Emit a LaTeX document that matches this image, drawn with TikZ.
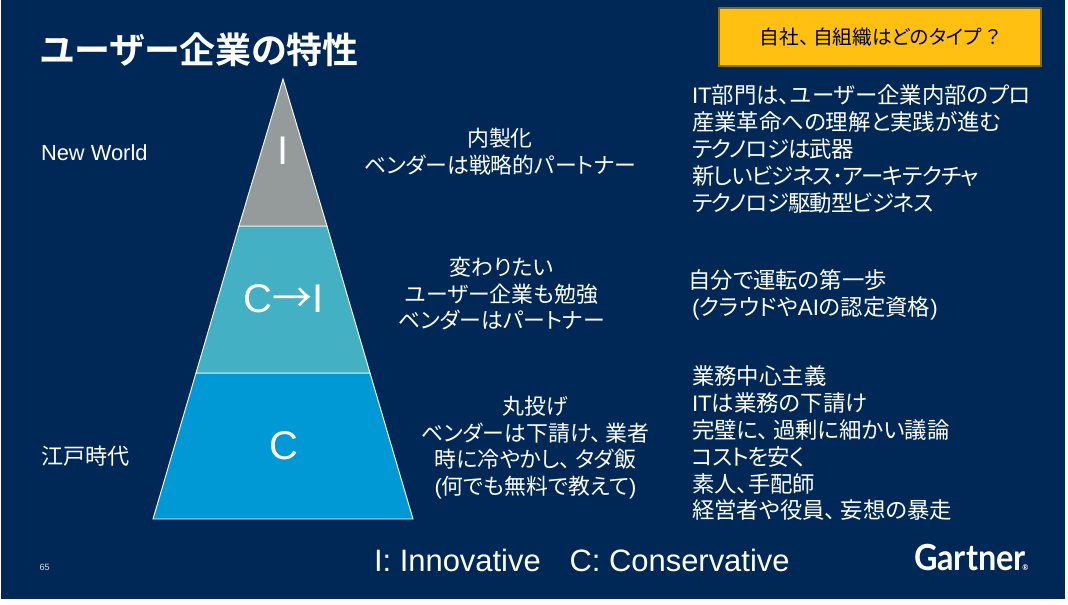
\documentclass[tikz,border=0pt]{standalone}
\usepackage{fontspec}
\setmainfont{Liberation Sans}
\newfontfamily\cjk[RawFeature=+palt]{Noto Sans CJK JP}
\newfontfamily\cjkfull{Noto Sans CJK JP}
\newfontfamily\cjkb[RawFeature=+palt]{Noto Sans CJK JP Bold}
\newfontfamily\cjktight[RawFeature=+palt,LetterSpace=-4]{Noto Sans CJK JP}
\newfontfamily\logofont[FakeStretch=0.9]{Lato Bold}
\definecolor{bgnavy}{HTML}{002856}
\definecolor{tiergray}{HTML}{959A9B}
\definecolor{tierteal}{HTML}{44B0C4}
\definecolor{tierblue}{HTML}{0099D6}
\definecolor{boxyellow}{HTML}{FFC012}
\definecolor{boxedge}{HTML}{7F6A1E}
\newcommand{\lat}[1]{{\rmfamily #1}}
\newcommand{\tou}{、\kern0.2em}
\tikzset{
  tier/.style={draw=white,line width=0.7pt,line join=miter},
  lbl/.style={text=white,inner sep=0pt,outer sep=0pt},
  blockc/.style={lbl,align=center,anchor=north,font=\cjk\fontsize{16.4}{20}\selectfont},
  blockl/.style={lbl,align=left,anchor=north west,font=\cjk\fontsize{16.8}{20.1}\selectfont},
  tierletter/.style={lbl,font=\rmfamily\fontsize{30}{30}\selectfont}
}
\begin{document}
\begin{tikzpicture}[x=0.75pt,y=-0.75pt]
\useasboundingbox (0,0) rectangle (1068,604);
\fill[white] (0,0) rectangle (1068,604);
\fill[bgnavy] (1,0) rectangle (1065,598.5);
% pyramid
\filldraw[tier,fill=tierblue] (196,373) -- (370,373) -- (413,519) -- (153,519) -- cycle;
\filldraw[tier,fill=tierteal] (239,226) -- (327,226) -- (370,373) -- (196,373) -- cycle;
\filldraw[tier,fill=tiergray] (283,79) -- (327,226) -- (239,226) -- cycle;
\node[tierletter] (tI) at (283.5,151) {I};
\node[tierletter] (tCI) at (283.5,298.5) {C{\cjkfull →}I};
\node[tierletter] (tC) at (284,446) {C};
% title
\node[lbl,anchor=west,font=\cjkb\fontsize{27}{30}\selectfont] (title) at (40,50) {ユーザー企業の特性};
% yellow box
\node[draw=boxedge,line width=0.8pt,fill=boxyellow,minimum width=322pt*0.75,minimum height=58pt*0.75,inner sep=0pt,text=black,font=\cjk\fontsize{14.8}{18}\selectfont] (ask) at (880,37) {自社\tou 自組織はどのタイプ\kern0.2em ？};
% left labels
\node[lbl,anchor=west,font=\rmfamily\fontsize{16.4}{20}\selectfont] (nw) at (41,152.5) {New World};
\node[lbl,anchor=west,font=\cjk\fontsize{16.6}{20}\selectfont] (edo) at (41,456) {江戸時代};
% centre blocks
\node[blockc] (c1) at (500,128.5) {内製化\\ベンダーは戦略的パートナー};
\node[blockc] (c2) at (501.5,257) {変わりたい\\ユーザー企業も勉強\\ベンダーはパートナー};
\node[blockc] (c3) at (535.5,396) {丸投げ\\ベンダーは下請け\tou 業者\\時に冷やかし\tou タダ飯\\\lat{(}何でも無料で教えて\lat{)}};
% right blocks
\node[blockl] (r1) at (692,85) {\lat{IT}部門は、ユーザー企業内部のプロ\\産業革命への理解と実践が進む\\{\cjktight テクノロジは武器}\\{\cjktight 新しいビジネス･アーキテクチャ}\\{\cjktight テクノロジ駆動型ビジネス}};
\node[blockl] (r2) at (688,270) {自分で運転の第一歩\\\hspace*{3pt}\lat{(}クラウドや\lat{AI}の認定資格\lat{)}};
\node[blockl] (r3) at (692,366) {業務中心主義\\\lat{IT}は業務の下請け\\完璧に\tou 過剰に細かい議論\\{\cjktight コストを安く}\\素人、手配師\\経営者や役員\tou 妄想の暴走};
% footer
\node[lbl,anchor=west,font=\rmfamily\fontsize{23.2}{26}\selectfont] (legend) at (374,560.5) {I: Innovative\hspace{0.93em}C: Conservative};
\node[lbl,anchor=west,text=white!85!bgnavy,font=\rmfamily\fontsize{6.8}{8}\selectfont] (page) at (39.5,567) {65};
\node[lbl,anchor=base west,font=\logofont\fontsize{27}{30}\selectfont] (logo) at (914,570) {Gartner\kern-2.5pt{\fontsize{6}{6}\selectfont ®}};
\end{tikzpicture}
\end{document}
